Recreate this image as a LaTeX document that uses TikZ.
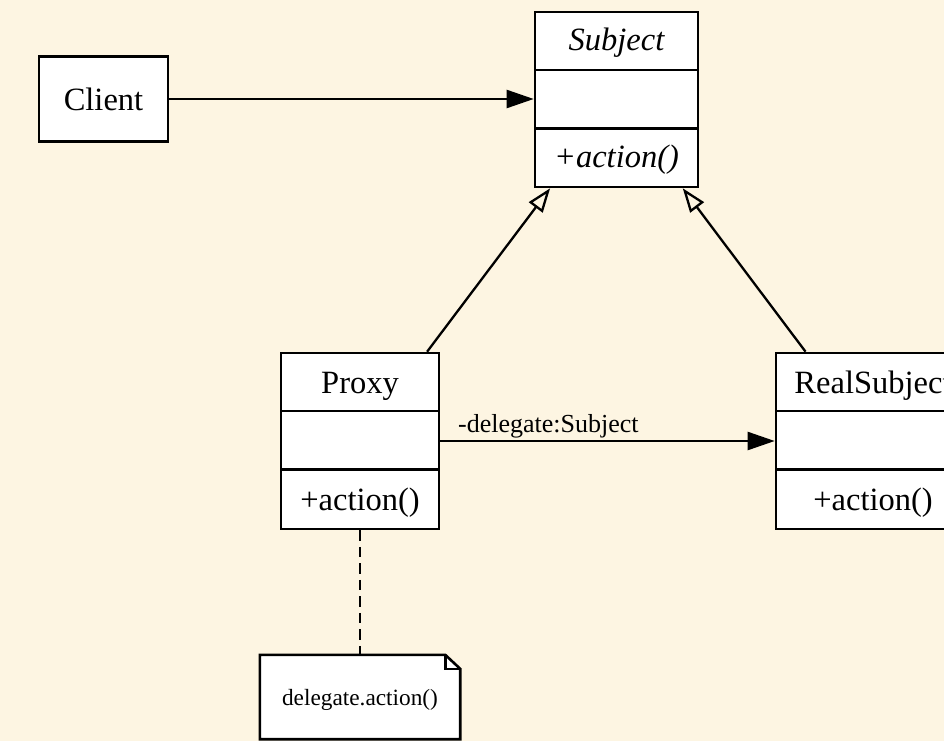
\documentclass[tikz,border=0pt]{standalone}
\usepackage{fontspec}
\setmainfont{Liberation Serif}
\usetikzlibrary{arrows.meta}
\definecolor{bg}{RGB}{253,245,226}
\begin{document}
\begin{tikzpicture}[x=1pt,y=-1pt,
  box/.style={draw=black,fill=white,line width=2.6pt,rectangle,inner sep=0pt},
  ghost/.style={rectangle,inner sep=0pt},
  divider/.style={line width=2.6pt},
  txt/.style={font=\fontsize{32.5}{38}\selectfont,inner sep=0pt,anchor=base},
  itxt/.style={txt,font=\fontsize{32.5}{38}\selectfont\itshape},
  lbl/.style={font=\fontsize{26}{30}\selectfont,inner sep=0pt,anchor=base west},
  notetxt/.style={font=\fontsize{23.3}{28}\selectfont,inner sep=0pt,anchor=base},
  edge/.style={draw=black,line width=2.3pt},
  assoc/.style={edge,-{Triangle[length=27pt,width=18pt]}},
  inherit/.style={edge,-{Triangle[open,length=24pt,width=17pt]}},
  notelink/.style={edge,dash pattern=on 10.5pt off 6pt}]
\fill[bg] (0,0) rectangle (944,741);
\useasboundingbox (0,0) rectangle (944,741);
\clip (0,0) rectangle (944,741);

% Client
\node[box,minimum width=129pt,minimum height=85pt] (client) at (103.5,99) {};
\node[txt] (clienttxt) at (103.5,110.5) {Client};

% Subject
\node[box,minimum width=163pt,minimum height=175pt] (subject) at (616.5,99.5) {};
\draw[divider] (535,70) -- (698,70);
\draw[divider] (535,128.5) -- (698,128.5);
\node[itxt] (subjecttitle) at (616.5,51) {Subject};
\node[itxt] (subjectop) at (616.5,167) {+action()};

% Proxy
\node[box,minimum width=158pt,minimum height=176pt] (proxy) at (360,441) {};
\draw[divider] (281,411) -- (439,411);
\draw[divider] (281,469.5) -- (439,469.5);
\node[txt] (proxytitle) at (360,393.5) {Proxy};
\node[txt] (proxyop) at (360,510) {+action()};

% RealSubject
\node[box,minimum width=193pt,minimum height=176pt] (real) at (872.5,441) {};
\draw[divider] (776,411) -- (969,411);
\draw[divider] (776,469.5) -- (969,469.5);
\node[txt] (realtitle) at (873,393.5) {RealSubject};
\node[txt] (realop) at (873,510) {+action()};

% Note
\node[ghost,minimum width=200pt,minimum height=84pt] (note) at (360,697) {};
\draw[box] (note.north west) -- ([xshift=-15pt]note.north east) -- ([yshift=-14pt]note.north east)
  -- (note.south east) -- (note.south west) -- cycle;
\draw[divider] ([xshift=-15pt]note.north east) -- ([xshift=-15pt,yshift=-14pt]note.north east)
  -- ([yshift=-14pt]note.north east);
\node[notetxt] (notetext) at (360,705) {delegate.action()};

% Connectors
\draw[assoc] (client) -- (client -| subject.west);
\draw[inherit] (proxy) -- (subject);
\draw[inherit] (real) -- (subject);
\draw[assoc] (proxy) -- (real);
\node[lbl] (delegatelbl) at (458,432) {-delegate:Subject};
\draw[notelink] (proxy) -- (note);
\end{tikzpicture}
\end{document}
